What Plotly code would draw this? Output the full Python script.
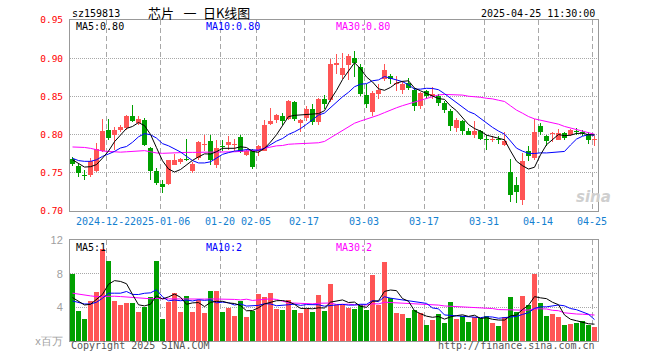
import plotly.graph_objects as go
import pandas as pd

# ---------------- data ----------------
dates = [
    "2024-12-13", "2024-12-16", "2024-12-17", "2024-12-18", "2024-12-19", "2024-12-20",
    "2024-12-23", "2024-12-24", "2024-12-25", "2024-12-26", "2024-12-27", "2024-12-30", "2024-12-31",
    "2025-01-02", "2025-01-03", "2025-01-06", "2025-01-07", "2025-01-08", "2025-01-09", "2025-01-10",
    "2025-01-13", "2025-01-14", "2025-01-15", "2025-01-16", "2025-01-17", "2025-01-20", "2025-01-21",
    "2025-01-22", "2025-01-23", "2025-01-24", "2025-01-27",
    "2025-02-05", "2025-02-06", "2025-02-07", "2025-02-10", "2025-02-11", "2025-02-12", "2025-02-13",
    "2025-02-14", "2025-02-17", "2025-02-18", "2025-02-19", "2025-02-20", "2025-02-21", "2025-02-24",
    "2025-02-25", "2025-02-26", "2025-02-27", "2025-02-28",
    "2025-03-03", "2025-03-04", "2025-03-05", "2025-03-06", "2025-03-07", "2025-03-10", "2025-03-11",
    "2025-03-12", "2025-03-13", "2025-03-14", "2025-03-17", "2025-03-18", "2025-03-19", "2025-03-20",
    "2025-03-21", "2025-03-24", "2025-03-25", "2025-03-26", "2025-03-27", "2025-03-28", "2025-03-31",
    "2025-04-01", "2025-04-02", "2025-04-03", "2025-04-07", "2025-04-08", "2025-04-09", "2025-04-10",
    "2025-04-11", "2025-04-14", "2025-04-15", "2025-04-16", "2025-04-17", "2025-04-18", "2025-04-21",
    "2025-04-22", "2025-04-23", "2025-04-24", "2025-04-25",
]

open_ = [0.768, 0.759, 0.7474, 0.7474, 0.752, 0.778, 0.8066, 0.800, 0.8066, 0.8088,
         0.824, 0.8154, 0.8197, 0.7825, 0.753, 0.7355, 0.7355, 0.7605, 0.7636, 0.7684,
         0.7518, 0.7693, 0.786, 0.791, 0.7605, 0.7855, 0.787, 0.786, 0.797, 0.7737,
         0.778, 0.779, 0.779, 0.814, 0.8197, 0.825, 0.821, 0.843, 0.8154, 0.822,
         0.833, 0.8167, 0.847, 0.8447, 0.8912, 0.878, 0.891, 0.900, 0.8886, 0.8518,
         0.8298, 0.8526, 0.8724, 0.8768, 0.866, 0.859, 0.868, 0.859, 0.837, 0.857,
         0.851, 0.8504, 0.8417, 0.8307, 0.8088, 0.8175, 0.8044, 0.800, 0.8044, 0.7934,
         0.7934, 0.7943, 0.7868, 0.7504, 0.7342, 0.7145, 0.778, 0.7693, 0.811, 0.7987,
         0.801, 0.7934, 0.802, 0.800, 0.8035, 0.8035, 0.8013, 0.7934]
high = [0.771, 0.7618, 0.754, 0.770, 0.789, 0.8206, 0.8206, 0.810, 0.8125, 0.826,
        0.8386, 0.824, 0.822, 0.7838, 0.756, 0.741, 0.767, 0.775, 0.770, 0.794,
        0.7636, 0.791, 0.800, 0.800, 0.7934, 0.7934, 0.798, 0.794, 0.800, 0.781,
        0.781, 0.7868, 0.819, 0.835, 0.8276, 0.8285, 0.8447, 0.8439, 0.821, 0.837,
        0.840, 0.848, 0.852, 0.8987, 0.905, 0.907, 0.905, 0.9096, 0.893, 0.8658,
        0.857, 0.8658, 0.892, 0.879, 0.877, 0.870, 0.8746, 0.8614, 0.8557, 0.8583,
        0.8627, 0.8526, 0.844, 0.833, 0.822, 0.8197, 0.8088, 0.8175, 0.8066, 0.800,
        0.7987, 0.798, 0.803, 0.768, 0.745, 0.7759, 0.7855, 0.8206, 0.8154, 0.800,
        0.803, 0.8075, 0.803, 0.8075, 0.8088, 0.8057, 0.803, 0.798]
low = [0.759, 0.745, 0.741, 0.744, 0.751, 0.777, 0.7925, 0.780, 0.8035, 0.806,
       0.8167, 0.812, 0.7855, 0.741, 0.734, 0.724, 0.734, 0.760, 0.762, 0.765,
       0.7496, 0.767, 0.779, 0.7605, 0.756, 0.778, 0.780, 0.778, 0.776, 0.772,
       0.755, 0.7715, 0.778, 0.813, 0.815, 0.813, 0.8197, 0.8175, 0.8035, 0.8175,
       0.8123, 0.813, 0.833, 0.843, 0.879, 0.8724, 0.872, 0.8755, 0.8504, 0.835,
       0.824, 0.846, 0.870, 0.8667, 0.857, 0.8526, 0.859, 0.8307, 0.8338, 0.846,
       0.846, 0.837, 0.8285, 0.8044, 0.803, 0.800, 0.799, 0.7956, 0.7934, 0.780,
       0.790, 0.788, 0.7846, 0.7123, 0.711, 0.708, 0.766, 0.767, 0.800, 0.7846,
       0.790, 0.7934, 0.7934, 0.7978, 0.800, 0.7987, 0.788, 0.7846]
close = [0.762, 0.7496, 0.7452, 0.766, 0.781, 0.8044, 0.7956, 0.8066, 0.8096, 0.824,
         0.8175, 0.821, 0.7868, 0.752, 0.737, 0.732, 0.767, 0.767, 0.7684, 0.767,
         0.7618, 0.790, 0.7868, 0.767, 0.7825, 0.7838, 0.790, 0.787, 0.7768, 0.778,
         0.758, 0.7846, 0.813, 0.8175, 0.826, 0.8175, 0.8439, 0.821, 0.8197, 0.833,
         0.8167, 0.847, 0.840, 0.892, 0.894, 0.887, 0.903, 0.894, 0.8535, 0.8395,
         0.8548, 0.8579, 0.8842, 0.8724, 0.868, 0.866, 0.8614, 0.837, 0.854, 0.8504,
         0.8526, 0.8417, 0.832, 0.811, 0.8189, 0.8044, 0.800, 0.8053, 0.7943, 0.7925,
         0.7947, 0.7934, 0.7912, 0.7215, 0.7254, 0.765, 0.7715, 0.803, 0.803, 0.7912,
         0.8013, 0.802, 0.7956, 0.8057, 0.803, 0.8025, 0.7925, 0.7943]

# volume, millions
volume = [8.0, 3.56, 2.6, 4.76, 5.88, 10.9, 9.56, 4.76, 4.28, 4.52,
          4.52, 3.44, 4.08, 5.28, 9.56, 2.6, 4.68, 5.72, 3.44, 5.36,
          3.44, 4.88, 3.32, 5.96, 5.96, 3.44, 3.92, 3.0, 4.76, 2.84,
          3.56, 5.6, 5.24, 5.72, 3.8, 3.68, 4.88, 3.68, 3.32, 3.8,
          3.44, 5.48, 3.56, 6.8, 4.28, 4.28, 3.96, 3.8, 4.28, 3.68,
          7.88, 4.28, 9.36, 5.08, 3.32, 3.16, 2.72, 3.68, 3.32, 1.88,
          2.48, 3.2, 2.12, 4.64, 2.6, 3.0, 2.24, 2.84, 2.72, 3.0,
          2.12, 1.76, 2.84, 5.24, 3.48, 5.36, 4.28, 8.0, 4.52, 3.0,
          3.2, 2.84, 1.88, 2.0, 2.12, 2.36, 1.88, 1.64]

# moving-average values at the start of the window (history before the chart)
ma5_head = [0.767, 0.7618, 0.7575, 0.758]
ma10_head = [0.769, 0.766, 0.765, 0.765, 0.767, 0.7715, 0.7746, 0.778, 0.7825]
ma30_head = [0.7838, 0.7838, 0.7832, 0.782, 0.780, 0.7785, 0.778, 0.7775, 0.777, 0.7775,
             0.778, 0.7793, 0.779, 0.7775, 0.776, 0.7755, 0.776, 0.7765, 0.7767, 0.7767,
             0.7767, 0.7767, 0.777, 0.777, 0.777, 0.777, 0.7775, 0.7775, 0.778]
vma5_head = [5.16, 4.76, 4.28, 4.36]
vma10_head = [4.76, 4.6, 4.4, 4.4, 4.6, 5.08, 5.68, 5.68, 5.68]
vma30_head = [5.68, 5.56, 5.4, 5.36, 5.28, 5.32, 5.36, 5.32, 5.28, 5.24,
              5.16, 5.08, 5.04, 5.02, 5.06, 5.0, 5.0, 5.0, 4.98, 4.98,
              5.0, 5.0, 4.98, 5.0, 5.0, 4.98, 4.94, 4.94, 4.88]

tick_dates = ["2024-12-23", "2025-01-06", "2025-01-20", "2025-02-05", "2025-02-17",
              "2025-03-03", "2025-03-17", "2025-03-31", "2025-04-14", "2025-04-25"]
tick_text = ["2024-12-23", "2025-01-06", "01-20", "02-05", "02-17",
             "03-03", "03-17", "03-31", "04-14", "04-25"]
price_ticks = [0.70, 0.75, 0.80, 0.85, 0.90, 0.95]
vol_ticks = [0, 4, 8, 12]
vol_tick_text = ["x百万", "4", "8", "12"]

# ---------------- styling ----------------
UP = "#ff5555"
DOWN = "#00a000"
MA5_C, MA10_C, MA30_C = "#000000", "#0000ff", "#ff00ff"
GRID = "#a8a8a8"
BORDER = "#999999"
MONO = "DejaVu Sans Mono, Liberation Mono, monospace"
CJK = "Noto Sans CJK SC, sans-serif"

W, H = 660, 360
L, R, T, B = 70, 62, 20, 19
PW, PH = W - L - R, H - T - B


def xp(px):
    return (px - L) / PW


def yp(py):
    return (H - B - py) / PH


def ma(values, w, head):
    r = pd.Series(values).rolling(w).mean().tolist()
    return list(head) + r[len(head):]


n = len(dates)
xs = list(range(n))
cols = [UP if c >= o else DOWN for o, c in zip(open_, close)]
body_base = [min(o, c) for o, c in zip(open_, close)]
body_h = [max(abs(c - o), 0.0013) for o, c in zip(open_, close)]
wick_h = [h - l for h, l in zip(high, low)]

ma5 = ma(close, 5, ma5_head)
ma10 = ma(close, 10, ma10_head)
ma30 = ma(close, 30, ma30_head)
vma5 = ma(volume, 5, vma5_head)
vma10 = ma(volume, 10, vma10_head)
vma30 = ma(volume, 30, vma30_head)

fig = go.Figure()
# wicks
fig.add_trace(go.Bar(x=xs, y=wick_h, base=low, width=1 / 6, marker=dict(color=cols, line=dict(width=0)),
                     xaxis="x", yaxis="y"))
# bodies
fig.add_trace(go.Bar(x=xs, y=body_h, base=body_base, width=5 / 6, marker=dict(color=cols, line=dict(width=0)),
                     xaxis="x", yaxis="y"))
# volume bars
fig.add_trace(go.Bar(x=xs, y=volume, width=5 / 6, marker=dict(color=cols, line=dict(width=0)),
                     xaxis="x2", yaxis="y2"))

for arr, c, nm in [(ma30, MA30_C, "MA30"), (ma10, MA10_C, "MA10"), (ma5, MA5_C, "MA5")]:
    fig.add_trace(go.Scatter(x=xs, y=arr, mode="lines", line=dict(color=c, width=1),
                             xaxis="x", yaxis="y", name=nm))
for arr, c, nm in [(vma30, MA30_C, "MA30"), (vma10, MA10_C, "MA10"), (vma5, MA5_C, "MA5")]:
    fig.add_trace(go.Scatter(x=xs, y=arr, mode="lines", line=dict(color=c, width=1),
                             xaxis="x2", yaxis="y2", name=nm))

offset = 5 / 12
grid_pos = [dates.index(d) - offset for d in tick_dates]
xrange = [-offset, n - offset]

common_x = dict(range=xrange, showgrid=True, gridcolor=GRID, griddash="5px,3px", gridwidth=1,
                tickvals=grid_pos, showticklabels=False, ticks="", zeroline=False,
                showline=True, mirror=True, linecolor=BORDER, linewidth=1, fixedrange=True)

fig.update_layout(
    width=W, height=H, margin=dict(l=L, r=R, t=T, b=B),
    paper_bgcolor="white", plot_bgcolor="white",
    showlegend=False, barmode="overlay", bargap=0, hovermode=False,
    xaxis=dict(domain=[0, 1], anchor="y", **common_x),
    xaxis2=dict(domain=[0, 1], anchor="y2", **common_x),
    yaxis=dict(domain=[yp(211), 1], range=[0.70, 0.95], anchor="x", fixedrange=True,
               tickvals=price_ticks, ticktext=[f"{v:.2f}" for v in price_ticks],
               tickfont=dict(family=MONO, size=9.5, color="#ff0000"),
               showgrid=True, gridcolor=GRID, griddash="1px,1px", gridwidth=1,
               ticks="", ticklabelstandoff=4, zeroline=False,
               showline=True, mirror=True, linecolor=BORDER, linewidth=1),
    yaxis2=dict(domain=[0, yp(240)], range=[0, 12], anchor="x2", fixedrange=True,
                tickvals=vol_ticks, ticktext=vol_tick_text,
                tickfont=dict(family="Liberation Sans, Arial, sans-serif", size=11, color="#a0a0a0"),
                showgrid=True, gridcolor=GRID, griddash="1px,1px", gridwidth=1,
                ticks="", ticklabelstandoff=4, zeroline=False,
                showline=True, mirror=True, linecolor=BORDER, linewidth=1),
)

ann = []


def text(s, px, py, color="#000000", size=10, family=MONO, xanchor="left", **kw):
    ann.append(dict(text=s, x=xp(px), y=yp(py), xref="paper", yref="paper", showarrow=False,
                    xanchor=xanchor, yanchor="middle", font=dict(family=family, size=size, color=color), **kw))


# header
text("sz159813", 70, 13)
text("芯片\u2002\u00a0一\u2002日K线图", 199, 12.5, size=13, family=CJK, xanchor="center")
text("2025-04-25 11:30:00", 597, 13, xanchor="right")
# MA legends
text("MA5:0.80", 74, 26, MA5_C)
text("MA10:0.80", 204, 26, MA10_C)
text("MA30:0.80", 334, 26, MA30_C)
text("MA5:1", 74, 247, MA5_C)
text("MA10:2", 204, 247, MA10_C)
text("MA30:2", 334, 247, MA30_C)
# footer
text("Copyright 2025 SINA.COM", 69, 346, "#555555")
text("http://finance.sina.com.cn", 597, 346, "#555555", xanchor="right")
# watermark
text("<b><i>sina</i></b>", 574, 197, "#cfcfcf", size=15, family="DejaVu Sans, sans-serif")

# x tick labels (later labels cover earlier ones, as in the original)
for pos, lab in zip(grid_pos, tick_text):
    ann.append(dict(text=lab, x=pos, y=yp(221), xref="x", yref="paper", showarrow=False,
                    xanchor="center", yanchor="middle", bgcolor="white", borderpad=0,
                    font=dict(family=MONO, size=10, color="#1480d0")))

fig.update_layout(annotations=ann)
fig.write_html("out.html", config={"displayModeBar": False, "staticPlot": True},
               post_script="document.body.style.margin='0px';")
